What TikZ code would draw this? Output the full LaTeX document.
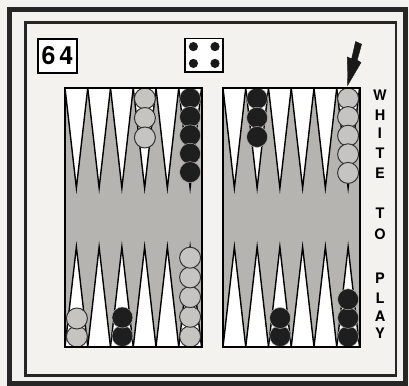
\documentclass[tikz,border=0pt]{standalone}
\usepackage{fontspec}
\setmainfont{TeX Gyre Heros}
\definecolor{paper}{HTML}{F4F2EF}
\definecolor{boardgrey}{HTML}{B6B4B1}
\definecolor{lightchk}{HTML}{C6C4C1}
\definecolor{darkchk}{HTML}{1E1E1E}
\tikzset{
  frameout/.style={draw=black!85, line width=4.5bp},
  framein/.style={draw=black!85, line width=2.5bp},
  boardbox/.style={draw=black, line width=2bp, fill=boardgrey},
  boardedge/.style={draw=black, line width=2bp},
  pointtri/.style={draw=black, line width=1.4bp, fill=white, line join=miter},
  lightman/.style={draw=black!80, line width=1bp, fill=lightchk},
  darkman/.style={draw=gray!60, line width=0.5bp, fill=darkchk},
  labelbox/.style={draw=black, line width=1.5bp, fill=white, inner sep=0pt},
  pip/.style={fill=black!90},
  letter/.style={font=\bfseries\fontsize{14.5bp}{14.5bp}\selectfont, inner sep=0pt},
  pointer/.style={fill=black!90, draw=black!90, line width=0.4bp, line join=miter},
}
\newcommand\manstack[5]{%
  \foreach \i in {1,...,#5} {\draw[#1] (#2,{#3+(\i-1)*(#4)}) circle[radius=10.5bp];}}
\begin{document}
\begin{tikzpicture}[x=1bp,y=-1bp]
\fill[paper] (0,0) rectangle (409,386);
\useasboundingbox (0,0) rectangle (409,386);
% frames
\draw[frameout] (9.5,9.5) rectangle (405.5,383.5);
\draw[framein] (25.5,22.5) rectangle (396,375.5);
% boards
\foreach \bx in {65,223} {
  \draw[boardbox] (\bx,88) rectangle ++(136.5,259);
  \foreach \k in {0,...,5} {
    \pgfmathsetmacro\xa{\bx+\k*22.75}
    \pgfmathsetmacro\xm{\bx+(\k+0.5)*22.75}
    \pgfmathsetmacro\xb{\bx+(\k+1)*22.75}
    \draw[pointtri] (\xa,88) -- (\xm,188) -- (\xb,88) -- cycle;
    \draw[pointtri] (\xa,347) -- (\xm,247) -- (\xb,347) -- cycle;
  }
}
% checkers, top rows
\manstack{lightman}{144.9}{98.5}{19.5}{3}
\manstack{darkman}{190.1}{98.5}{18.4}{5}
\manstack{darkman}{257.1}{98.5}{19.2}{3}
\manstack{lightman}{348.1}{98.5}{18.6}{5}
% checkers, bottom rows
\manstack{lightman}{76.9}{336.5}{-18}{2}
\manstack{darkman}{122.4}{336}{-18.5}{2}
\manstack{lightman}{190.1}{336.5}{-19.7}{5}
\manstack{darkman}{280.1}{336}{-18}{2}
\manstack{darkman}{348.1}{336.5}{-18.6}{3}
% board outlines on top
\draw[boardedge] (65,88) rectangle ++(136.5,259);
\draw[boardedge] (223,88) rectangle ++(136.5,259);
% problem number
\node[labelbox, minimum width=39bp, minimum height=34bp] (num) at (57.5,56)
  {\bfseries\fontsize{25bp}{25bp}\selectfont 6\hspace{4bp}4};
% die
\node[labelbox, minimum width=38bp, minimum height=33.5bp] (die) at (204.2,55) {};
\fill[pip] ([shift={(-10.8,-8.4)}]die.center) circle[radius=4.6bp];
\fill[pip] ([shift={(10.8,-8.4)}]die.center) circle[radius=4.6bp];
\fill[pip] ([shift={(-10.8,8.4)}]die.center) circle[radius=4.6bp];
\fill[pip] ([shift={(10.8,8.4)}]die.center) circle[radius=4.6bp];
% pointer arrow
\filldraw[pointer] (355.6,41.5) -- (361.6,44.2) -- (357.2,60.2) -- (361.0,62.5)
  -- (347.6,85.5) -- (347.4,57.0) -- (351.6,58.8) -- cycle;
% side text
\node[letter] (l1) at (380,95.5) {W};
\node[letter] (l2) at (380,115) {H};
\node[letter] (l3) at (380,133) {I};
\node[letter] (l4) at (380,153) {T};
\node[letter] (l5) at (380,173) {E};
\node[letter] (l6) at (380,213.5) {T};
\node[letter] (l7) at (380,234) {O};
\node[letter] (l8) at (380,278) {P};
\node[letter] (l9) at (380,298) {L};
\node[letter] (l10) at (380,316.5) {A};
\node[letter] (l11) at (380,333.5) {Y};
\end{tikzpicture}
\end{document}
